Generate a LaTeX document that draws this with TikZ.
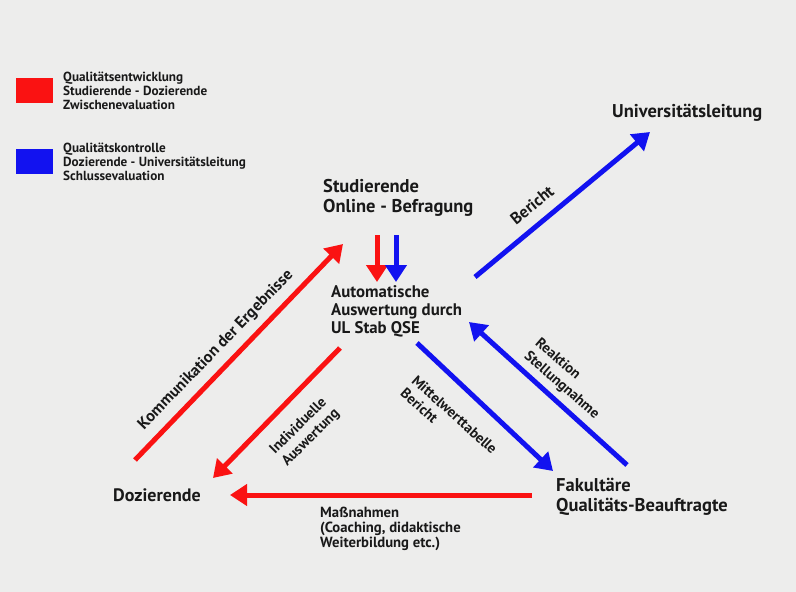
\documentclass[tikz,border=0pt]{standalone}
\usepackage{fontspec}
\setmainfont{PT Sans}
\usetikzlibrary{arrows.meta}
\definecolor{bg}{RGB}{237,237,236}
\definecolor{myred}{RGB}{250,18,18}
\definecolor{myblue}{RGB}{18,18,240}
\definecolor{ink}{RGB}{25,25,25}
\begin{document}
\begin{tikzpicture}[x=1pt,y=-1pt,
  every node/.style={inner sep=0pt, text=ink},
  leg/.style={font=\bfseries\fontsize{13.2}{14}\selectfont, align=left, anchor=base west},
  legbox/.style={minimum width=37pt, minimum height=25pt, anchor=north west},
  big/.style={font=\bfseries\fontsize{18.5}{20}\selectfont, align=left, anchor=base west},
  mid/.style={font=\bfseries\fontsize{16.8}{18}\selectfont, align=left, anchor=base west},
  lbl/.style={font=\bfseries\fontsize{14.5}{17}\selectfont, align=left},
  ra/.style={draw=myred, line width=5pt, -{Triangle[width=21pt,length=17pt]}},
  ba/.style={draw=myblue, line width=5pt, -{Triangle[width=21pt,length=17pt]}}]
\fill[bg] (0,0) rectangle (796,592);
\useasboundingbox (0,0) rectangle (796,592);
% legend
\node[legbox, fill=myred] (boxR) at (16,78) {};
\node[legbox, fill=myblue] (boxB) at (16,149) {};
\node[leg] (legR) at (63,109) {Qualitätsentwicklung\\Studierende - Dozierende\\Zwischenevaluation};
\node[leg] (legB) at (63,180) {Qualitätskontrolle\\Dozierende - Universitätsleitung\\Schlussevaluation};
% main nodes
\node[big] (uni) at (612,117) {Universitätsleitung};
\node[big] (stud) at (323,212) {Studierende\\Online - Befragung};
\node[mid] (auto) at (331,333) {Automatische\\Auswertung durch\\UL Stab QSE};
\node[big, font=\bfseries\fontsize{18}{20}\selectfont] (doz) at (113,501) {Dozierende};
\node[big] (fak) at (556,511) {Fakultäre\\Qualitäts-Beauftragte};
% connector end points
\coordinate (sR) at (377,235); \coordinate (tR) at (377,282);
\coordinate (sB) at (396,235); \coordinate (tB) at (396,282);
\coordinate (berS) at (475,277); \coordinate (berT) at (650,132);
\coordinate (komS) at (135,460); \coordinate (komT) at (343,244);
\coordinate (indS) at (340,348); \coordinate (indT) at (213,478);
\coordinate (mitS) at (417,343); \coordinate (mitT) at (553,471);
\coordinate (reaS) at (627,465); \coordinate (reaT) at (469,322);
\coordinate (masS) at (532,495); \coordinate (masT) at (230,495);
% arrows
\draw[ra] (sR) -- (tR);
\draw[ba] (sB) -- (tB);
\draw[ba] (berS) -- (berT);
\draw[ra] (komS) -- (komT);
\draw[ra] (indS) -- (indT);
\draw[ba] (mitS) -- (mitT);
\draw[ba] (reaS) -- (reaT);
\draw[ra] (masS) -- (masT);
% labels
\node[lbl, rotate=39, font=\bfseries\fontsize{16.5}{17}\selectfont] (lber) at (532,205) {Bericht};
\node[lbl, rotate=46, font=\bfseries\fontsize{16.2}{17}\selectfont] (lkom) at (216,350) {Kommunikation der Ergebnisse};
\node[lbl, rotate=45] (lind) at (305,432) {Individuelle\\Auswertung};
\node[lbl, rotate=-42] (lmit) at (449,421) {Mittelwerttabelle\\Bericht};
\node[lbl, rotate=-41] (lrea) at (567,379) {Reaktion\\Stellungnahme};
\node[lbl, anchor=base west, font=\bfseries\fontsize{14.7}{15}\selectfont] (lmas) at (320,547) {Maßnahmen\\(Coaching, didaktische\\Weiterbildung etc.)};
\end{tikzpicture}
\end{document}
